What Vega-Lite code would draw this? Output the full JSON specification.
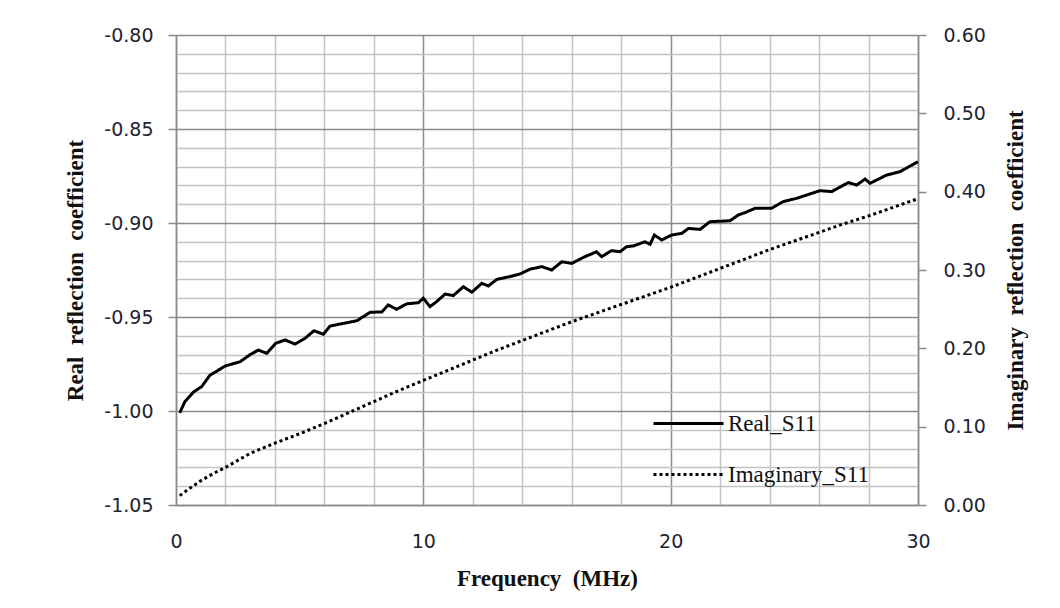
{
  "$schema": "https://vega.github.io/schema/vega-lite/v6.json",
  "width": 742,
  "height": 470,
  "autosize": {"type": "none"},
  "padding": {"left": 176, "top": 35, "right": 142, "bottom": 103},
  "background": "white",
  "config": {"view": {"stroke": null}},
  "data": {
    "values": [
      {"f": 0.15, "v": -1.001, "series": "Real_S11"},
      {"f": 0.36, "v": -0.995, "series": "Real_S11"},
      {"f": 0.70, "v": -0.990, "series": "Real_S11"},
      {"f": 1.04, "v": -0.987, "series": "Real_S11"},
      {"f": 1.37, "v": -0.981, "series": "Real_S11"},
      {"f": 2.0, "v": -0.976, "series": "Real_S11"},
      {"f": 2.59, "v": -0.9738, "series": "Real_S11"},
      {"f": 3.0, "v": -0.970, "series": "Real_S11"},
      {"f": 3.33, "v": -0.9676, "series": "Real_S11"},
      {"f": 3.67, "v": -0.9693, "series": "Real_S11"},
      {"f": 4.03, "v": -0.964, "series": "Real_S11"},
      {"f": 4.41, "v": -0.9622, "series": "Real_S11"},
      {"f": 4.81, "v": -0.9644, "series": "Real_S11"},
      {"f": 5.22, "v": -0.9613, "series": "Real_S11"},
      {"f": 5.58, "v": -0.9573, "series": "Real_S11"},
      {"f": 5.96, "v": -0.9592, "series": "Real_S11"},
      {"f": 6.23, "v": -0.9548, "series": "Real_S11"},
      {"f": 6.77, "v": -0.9534, "series": "Real_S11"},
      {"f": 7.31, "v": -0.952, "series": "Real_S11"},
      {"f": 7.85, "v": -0.9475, "series": "Real_S11"},
      {"f": 8.32, "v": -0.9473, "series": "Real_S11"},
      {"f": 8.58, "v": -0.9436, "series": "Real_S11"},
      {"f": 8.92, "v": -0.9459, "series": "Real_S11"},
      {"f": 9.33, "v": -0.943, "series": "Real_S11"},
      {"f": 9.80, "v": -0.9424, "series": "Real_S11"},
      {"f": 10.0, "v": -0.940, "series": "Real_S11"},
      {"f": 10.27, "v": -0.9445, "series": "Real_S11"},
      {"f": 10.54, "v": -0.9418, "series": "Real_S11"},
      {"f": 10.88, "v": -0.9378, "series": "Real_S11"},
      {"f": 11.21, "v": -0.9386, "series": "Real_S11"},
      {"f": 11.62, "v": -0.9339, "series": "Real_S11"},
      {"f": 11.96, "v": -0.9368, "series": "Real_S11"},
      {"f": 12.36, "v": -0.9321, "series": "Real_S11"},
      {"f": 12.63, "v": -0.9335, "series": "Real_S11"},
      {"f": 12.97, "v": -0.930, "series": "Real_S11"},
      {"f": 13.5, "v": -0.9285, "series": "Real_S11"},
      {"f": 13.91, "v": -0.9271, "series": "Real_S11"},
      {"f": 14.31, "v": -0.9246, "series": "Real_S11"},
      {"f": 14.79, "v": -0.9232, "series": "Real_S11"},
      {"f": 15.19, "v": -0.925, "series": "Real_S11"},
      {"f": 15.6, "v": -0.9206, "series": "Real_S11"},
      {"f": 16.0, "v": -0.9215, "series": "Real_S11"},
      {"f": 16.47, "v": -0.9183, "series": "Real_S11"},
      {"f": 17.0, "v": -0.9153, "series": "Real_S11"},
      {"f": 17.21, "v": -0.9179, "series": "Real_S11"},
      {"f": 17.61, "v": -0.9147, "series": "Real_S11"},
      {"f": 17.95, "v": -0.9153, "series": "Real_S11"},
      {"f": 18.22, "v": -0.9126, "series": "Real_S11"},
      {"f": 18.49, "v": -0.9122, "series": "Real_S11"},
      {"f": 18.96, "v": -0.910, "series": "Real_S11"},
      {"f": 19.17, "v": -0.9113, "series": "Real_S11"},
      {"f": 19.34, "v": -0.9064, "series": "Real_S11"},
      {"f": 19.64, "v": -0.909, "series": "Real_S11"},
      {"f": 20.04, "v": -0.9064, "series": "Real_S11"},
      {"f": 20.45, "v": -0.9055, "series": "Real_S11"},
      {"f": 20.72, "v": -0.9029, "series": "Real_S11"},
      {"f": 21.19, "v": -0.9034, "series": "Real_S11"},
      {"f": 21.59, "v": -0.8993, "series": "Real_S11"},
      {"f": 22.4, "v": -0.8988, "series": "Real_S11"},
      {"f": 22.74, "v": -0.8957, "series": "Real_S11"},
      {"f": 23.0, "v": -0.8945, "series": "Real_S11"},
      {"f": 23.41, "v": -0.8922, "series": "Real_S11"},
      {"f": 24.08, "v": -0.8922, "series": "Real_S11"},
      {"f": 24.55, "v": -0.8886, "series": "Real_S11"},
      {"f": 25.09, "v": -0.8869, "series": "Real_S11"},
      {"f": 25.5, "v": -0.8851, "series": "Real_S11"},
      {"f": 26.04, "v": -0.8828, "series": "Real_S11"},
      {"f": 26.51, "v": -0.8833, "series": "Real_S11"},
      {"f": 27.18, "v": -0.8785, "series": "Real_S11"},
      {"f": 27.52, "v": -0.8798, "series": "Real_S11"},
      {"f": 27.86, "v": -0.8766, "series": "Real_S11"},
      {"f": 28.06, "v": -0.8789, "series": "Real_S11"},
      {"f": 28.73, "v": -0.8745, "series": "Real_S11"},
      {"f": 29.27, "v": -0.8727, "series": "Real_S11"},
      {"f": 30.0, "v": -0.8674, "series": "Real_S11"},
      {"f": 0.15, "im": 0.012, "series": "Imaginary_S11"},
      {"f": 0.5, "im": 0.020, "series": "Imaginary_S11"},
      {"f": 1.0, "im": 0.031, "series": "Imaginary_S11"},
      {"f": 1.5, "im": 0.040, "series": "Imaginary_S11"},
      {"f": 2.0, "im": 0.048, "series": "Imaginary_S11"},
      {"f": 3.0, "im": 0.066, "series": "Imaginary_S11"},
      {"f": 4.0, "im": 0.079, "series": "Imaginary_S11"},
      {"f": 5.0, "im": 0.091, "series": "Imaginary_S11"},
      {"f": 6.0, "im": 0.104, "series": "Imaginary_S11"},
      {"f": 7.0, "im": 0.118, "series": "Imaginary_S11"},
      {"f": 8.0, "im": 0.132, "series": "Imaginary_S11"},
      {"f": 9.0, "im": 0.146, "series": "Imaginary_S11"},
      {"f": 10.0, "im": 0.159, "series": "Imaginary_S11"},
      {"f": 11.0, "im": 0.172, "series": "Imaginary_S11"},
      {"f": 12.0, "im": 0.185, "series": "Imaginary_S11"},
      {"f": 13.0, "im": 0.198, "series": "Imaginary_S11"},
      {"f": 14.0, "im": 0.210, "series": "Imaginary_S11"},
      {"f": 15.0, "im": 0.222, "series": "Imaginary_S11"},
      {"f": 16.0, "im": 0.234, "series": "Imaginary_S11"},
      {"f": 17.0, "im": 0.245, "series": "Imaginary_S11"},
      {"f": 18.0, "im": 0.256, "series": "Imaginary_S11"},
      {"f": 19.0, "im": 0.267, "series": "Imaginary_S11"},
      {"f": 20.0, "im": 0.278, "series": "Imaginary_S11"},
      {"f": 21.0, "im": 0.290, "series": "Imaginary_S11"},
      {"f": 22.0, "im": 0.302, "series": "Imaginary_S11"},
      {"f": 23.0, "im": 0.314, "series": "Imaginary_S11"},
      {"f": 24.0, "im": 0.326, "series": "Imaginary_S11"},
      {"f": 25.0, "im": 0.337, "series": "Imaginary_S11"},
      {"f": 26.0, "im": 0.348, "series": "Imaginary_S11"},
      {"f": 27.0, "im": 0.359, "series": "Imaginary_S11"},
      {"f": 28.0, "im": 0.369, "series": "Imaginary_S11"},
      {"f": 29.0, "im": 0.380, "series": "Imaginary_S11"},
      {"f": 30.0, "im": 0.391, "series": "Imaginary_S11"}
    ]
  },
  "encoding": {
    "x": {
      "field": "f",
      "type": "quantitative",
      "scale": {"domain": [0, 30], "nice": false},
      "axis": {
        "values": [0, 2, 4, 6, 8, 10, 12, 14, 16, 18, 20, 22, 24, 26, 28, 30],
        "labelExpr": "datum.value % 10 === 0 ? datum.label : ''",
        "ticks": false,
        "grid": true,
        "gridColor": {"condition": {"test": "datum.value % 10 === 0", "value": "#8a8a8a"}, "value": "#c4c4c4"},
        "gridWidth": 1.5,
        "domainColor": "#8a8a8a",
        "domainWidth": 1.5,
        "labelFont": "DejaVu Sans",
        "labelFontSize": 19,
        "labelColor": "#1c2433",
        "labelPadding": 27,
        "labelFlush": false,
        "title": "Frequency\u00a0 (MHz)",
        "titleFont": "Liberation Serif",
        "titleFontWeight": "bold",
        "titleFontSize": 23,
        "titleColor": "#111111",
        "titlePadding": 16
      }
    },
    "strokeDash": {
      "field": "series",
      "type": "nominal",
      "scale": {"domain": ["Real_S11", "Imaginary_S11"], "range": [[1, 0], [3, 3]]},
      "legend": {
        "orient": "none",
        "legendX": 476,
        "legendY": 352,
        "title": null,
        "symbolType": "stroke",
        "symbolSize": 4900,
        "symbolStrokeWidth": 3,
        "symbolStrokeColor": "black",
        "labelFont": "Liberation Serif",
        "labelFontSize": 23,
        "labelColor": "#111111",
        "labelOffset": 3,
        "rowPadding": 2
      }
    }
  },
  "layer": [
    {
      "transform": [{"filter": "datum.series === 'Real_S11'"}],
      "mark": {"type": "line", "color": "black", "strokeWidth": 3},
      "encoding": {
        "y": {
          "field": "v",
          "type": "quantitative",
          "scale": {"domain": [-1.05, -0.8], "nice": false, "zero": false},
          "axis": {
            "values": [-1.05, -1.04, -1.03, -1.02, -1.01, -1.0, -0.99, -0.98, -0.97, -0.96, -0.95, -0.94, -0.93, -0.92, -0.91, -0.9, -0.89, -0.88, -0.87, -0.86, -0.85, -0.84, -0.83, -0.82, -0.81, -0.8],
            "labelExpr": "abs(datum.value*20 - round(datum.value*20)) < 0.001 ? replace(format(datum.value, '.2f'), '\u2212', '-') : ''",
            "grid": true,
            "gridColor": {"condition": {"test": "abs(datum.value*20 - round(datum.value*20)) < 0.001", "value": "#8a8a8a"}, "value": "#c4c4c4"},
            "gridWidth": 1.5,
            "tickSize": 8,
            "tickColor": "#8a8a8a",
            "tickWidth": 1.5,
            "tickOpacity": {"condition": {"test": "abs(datum.value*20 - round(datum.value*20)) < 0.001", "value": 1}, "value": 0},
            "domainColor": "#8a8a8a",
            "domainWidth": 1.5,
            "labelFont": "DejaVu Sans",
            "labelFontSize": 19,
            "labelColor": "#1c2433",
            "labelPadding": 15,
            "labelFlush": false,
            "title": "Real\u00a0 reflection\u00a0 coefficient",
            "titleFont": "Liberation Serif",
            "titleFontWeight": "bold",
            "titleFontSize": 23,
            "titleColor": "#111111",
            "titlePadding": 16
          }
        }
      }
    },
    {
      "transform": [{"filter": "datum.series === 'Imaginary_S11'"}],
      "mark": {"type": "line", "color": "black", "strokeWidth": 3},
      "encoding": {
        "y": {
          "field": "im",
          "type": "quantitative",
          "scale": {"domain": [0, 0.6], "nice": false},
          "axis": {
            "orient": "right",
            "values": [0, 0.1, 0.2, 0.3, 0.4, 0.5, 0.6],
            "format": ".2f",
            "grid": false,
            "tickSize": 8,
            "tickColor": "#8a8a8a",
            "tickWidth": 1.5,
            "domainColor": "#8a8a8a",
            "domainWidth": 1.5,
            "labelFont": "DejaVu Sans",
            "labelFontSize": 19,
            "labelColor": "#1c2433",
            "labelPadding": 17,
            "labelFlush": false,
            "title": "Imaginary\u00a0 reflection\u00a0 coefficient",
            "titleAngle": 270,
            "titleFont": "Liberation Serif",
            "titleFontWeight": "bold",
            "titleFontSize": 23,
            "titleColor": "#111111",
            "titlePadding": 42
          }
        }
      }
    }
  ],
  "resolve": {"scale": {"y": "independent"}}
}
